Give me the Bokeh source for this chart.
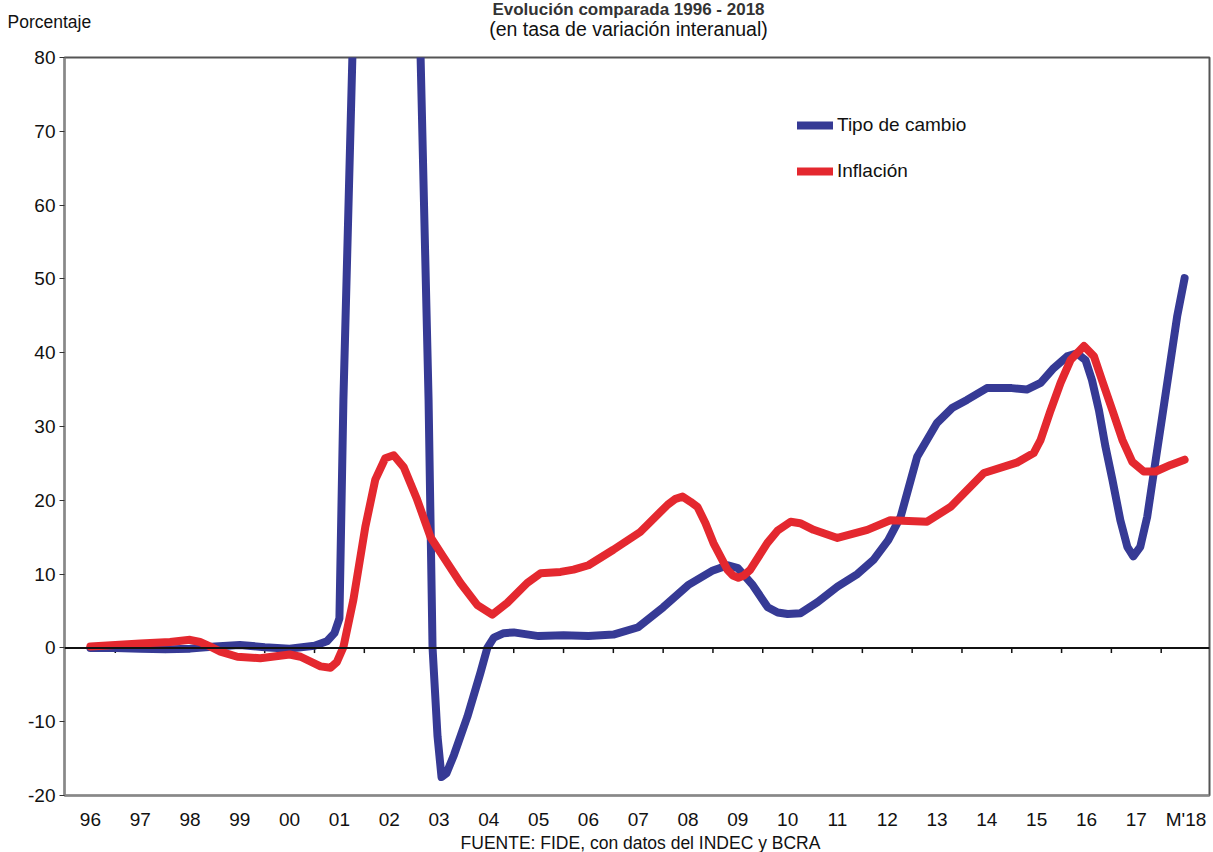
from bokeh.plotting import figure
from bokeh.models import Range1d, Span, Legend, LegendItem, FixedTicker
from bokeh.layouts import column
from bokeh.core.properties import value
from bokeh.embed import file_html
from bokeh.resources import INLINE

# Category labels (position index 0..22)
categorias = ["96", "97", "98", "99", "00", "01", "02", "03", "04", "05", "06",
              "07", "08", "09", "10", "11", "12", "13", "14", "15", "16", "17", "M'18"]

# Tipo de cambio (x = position in years from 1996, y = % interannual)
tipo_x = [0.0, 0.5, 1.0, 1.5, 2.0, 2.5, 3.0, 3.5, 4.0, 4.5, 4.75, 4.9, 5.0, 5.08, 5.26,
          5.5, 5.75, 6.0, 6.25, 6.5, 6.63, 6.79, 6.87, 6.97, 7.05, 7.15, 7.3, 7.57,
          7.83, 7.97, 8.1, 8.3, 8.5, 9.0, 9.5, 10.0, 10.5, 11.0, 11.5, 12.0, 12.5,
          12.8, 13.0, 13.3, 13.6, 13.8, 14.0, 14.26, 14.6, 15.0, 15.4, 15.72, 16.02, 16.27,
          16.6, 17.0, 17.3, 17.6, 18.0, 18.5, 18.8, 19.08, 19.34, 19.61, 19.81, 19.98,
          20.11, 20.25, 20.38, 20.52, 20.68, 20.82, 20.94, 21.08, 21.22, 21.35, 21.52,
          21.69, 21.82, 21.97]
tipo_y = [0.0, 0.0, -0.1, -0.2, -0.1, 0.2, 0.4, 0.1, -0.1, 0.3, 0.9, 2.0, 4.0, 33.6, 80.0,
          140.0, 200.0, 225.0, 200.0, 117.0, 80.0, 33.6, 0.0, -12.0, -17.5, -17.0, -14.5, -9.3,
          -3.4, 0.0, 1.4, 2.0, 2.1, 1.6, 1.7, 1.6, 1.8, 2.8, 5.5, 8.5, 10.5,
          11.2, 10.8, 8.5, 5.5, 4.8, 4.6, 4.7, 6.2, 8.3, 10.0, 11.9, 14.6, 17.8,
          25.9, 30.5, 32.5, 33.6, 35.2, 35.2, 35.0, 35.9, 37.9, 39.5, 39.9, 39.0,
          36.3, 32.2, 27.3, 22.8, 17.3, 13.7, 12.4, 13.7, 17.8, 23.7, 31.3,
          39.0, 44.9, 50.1]

# Inflación
infl_x = [0.0, 0.5, 1.0, 1.6, 2.0, 2.2, 2.4, 2.61, 2.95, 3.41, 4.0, 4.22, 4.62, 4.82, 4.95, 5.08,
          5.28, 5.52, 5.72, 5.92, 6.09, 6.29, 6.56, 6.83, 7.09, 7.43, 7.77, 8.07,
          8.37, 8.77, 9.04, 9.44, 9.7, 10.0, 10.5, 11.04, 11.59, 11.75, 11.89, 12.05, 12.19,
          12.35, 12.51, 12.79, 12.9, 13.01, 13.12, 13.25, 13.59, 13.8, 14.06, 14.25, 14.52,
          15.0, 15.6, 16.06, 16.8, 17.27, 17.94, 18.6, 18.94, 19.08, 19.28, 19.48, 19.68,
          19.95, 20.15, 20.31, 20.52, 20.72, 20.92, 21.15, 21.39, 21.69, 21.97]
infl_y = [0.2, 0.4, 0.6, 0.8, 1.1, 0.8, 0.2, -0.5, -1.2, -1.4, -0.9, -1.2, -2.5, -2.7, -1.9, 0.1,
          6.5, 16.4, 22.8, 25.7, 26.1, 24.5, 20.1, 15.0, 12.3, 8.8, 5.8, 4.5,
          6.1, 8.8, 10.1, 10.3, 10.6, 11.2, 13.3, 15.7, 19.4, 20.2, 20.5, 19.8, 19.1,
          16.9, 14.2, 10.6, 9.8, 9.5, 9.8, 10.6, 14.2, 15.9, 17.1, 16.9, 16.0,
          14.9, 16.0, 17.3, 17.1, 19.1, 23.7, 25.1, 26.4, 28.2, 32.2, 35.9, 39.0,
          40.9, 39.5, 36.3, 32.2, 28.2, 25.2, 23.9, 23.9, 24.8, 25.5]

series_names = ["Tipo de cambio", "Inflación"]
y_ticks = [-20, -10, 0, 10, 20, 30, 40, 50, 60, 70, 80]

titulo = "Evolución comparada 1996 - 2018"
subtitulo = "(en tasa de variación interanual)"
fuente = "FUENTE: FIDE, con datos del INDEC y BCRA"
eje_y = "Porcentaje"

FONT = "Liberation Sans"
BLUE = "#363A95"
RED = "#E4282F"
TXT = "#111111"

W = 1213
HEAD_H = 45
FOOT_H = 20
MAIN_H = 852 - HEAD_H - FOOT_H


def no_align(fig):
    try:
        fig.frame_align = False
    except Exception:
        pass


# ---------- header (title, subtitle, y-axis unit) ----------
head = figure(width=W, height=HEAD_H, output_backend="svg", toolbar_location=None,
              x_range=Range1d(0, W), y_range=Range1d(HEAD_H, 0),
              min_border=0, x_axis_type=None, y_axis_type=None)
no_align(head)
head.outline_line_color = None
head.xgrid.visible = False
head.ygrid.visible = False
head.text(x=[628], y=[9], text=[titulo], text_align="center", text_baseline="middle",
          text_font=value(FONT), text_font_size="17px", text_font_style="bold", text_color="#333333")
head.text(x=[628], y=[28], text=[subtitulo], text_align="center", text_baseline="middle",
          text_font=value(FONT), text_font_size="19.5px", text_color=TXT)
head.text(x=[7], y=[21], text=[eje_y], text_align="left", text_baseline="middle",
          text_font=value(FONT), text_font_size="17.5px", text_color=TXT)

# ---------- main chart ----------
p = figure(width=W, height=MAIN_H, output_backend="svg", toolbar_location=None,
           x_range=Range1d(-0.52, 22.47), y_range=Range1d(-20, 80),
           min_border_left=64, min_border_right=4, min_border_top=12, min_border_bottom=37)
no_align(p)
p.background_fill_color = "white"
p.border_fill_color = "white"
p.outline_line_color = "#555555"
p.outline_line_width = 2
p.xgrid.visible = False
p.ygrid.visible = False

p.xaxis.ticker = FixedTicker(ticks=list(range(len(categorias))))
p.xaxis.major_label_overrides = {i: c for i, c in enumerate(categorias)}
p.xaxis.major_tick_line_color = None
p.xaxis.minor_tick_line_color = None
p.xaxis.axis_line_color = "#888888"
p.xaxis.axis_line_width = 2
p.xaxis.major_label_standoff = 7
p.xaxis.major_label_text_font = FONT
p.xaxis.major_label_text_font_size = "19px"
p.xaxis.major_label_text_color = TXT

p.yaxis.ticker = FixedTicker(ticks=y_ticks)
p.yaxis.major_label_overrides = {t: str(t) for t in y_ticks}
p.yaxis.minor_tick_line_color = None
p.yaxis.major_tick_in = 0
p.yaxis.major_tick_out = 5
p.yaxis.major_tick_line_color = "#333333"
p.yaxis.major_tick_line_width = 1
p.yaxis.axis_line_color = "#888888"
p.yaxis.axis_line_width = 2
p.yaxis.major_label_standoff = 4
p.yaxis.major_label_text_font = FONT
p.yaxis.major_label_text_font_size = "19px"
p.yaxis.major_label_text_color = TXT

# zero line with small category-boundary ticks
p.add_layout(Span(location=0, dimension="width", line_color="#111111", line_width=2))
bx = [i + 0.5 for i in range(len(categorias) - 1)]
p.segment(x0=bx, y0=[0] * len(bx), x1=bx, y1=[-0.7] * len(bx), line_color="#111111", line_width=1.5)

r1 = p.line(tipo_x, tipo_y, line_color=BLUE, line_width=8, line_cap="round", line_join="round")
r2 = p.line(infl_x, infl_y, line_color=RED, line_width=8, line_cap="round", line_join="round")

legend = Legend(items=[LegendItem(label=series_names[0], renderers=[r1]),
                       LegendItem(label=series_names[1], renderers=[r2])],
                location=(733, 613), orientation="vertical")
legend.glyph_width = 36
legend.glyph_height = 20
legend.label_height = 20
legend.spacing = 24
legend.padding = 0
legend.margin = 0
legend.label_standoff = 4
legend.border_line_color = None
legend.background_fill_alpha = 0
legend.label_text_font = FONT
legend.label_text_font_size = "19px"
legend.label_text_color = TXT
p.add_layout(legend, "center")

# ---------- footer (source) ----------
foot = figure(width=W, height=FOOT_H, output_backend="svg", toolbar_location=None,
              x_range=Range1d(0, W), y_range=Range1d(FOOT_H, 0),
              min_border=0, x_axis_type=None, y_axis_type=None)
no_align(foot)
foot.outline_line_color = None
foot.xgrid.visible = False
foot.ygrid.visible = False
foot.text(x=[640], y=[10], text=[fuente], text_align="center", text_baseline="middle",
          text_font=value(FONT), text_font_size="17.5px", text_color=TXT)

layout = column(head, p, foot, spacing=0)
open("out.html", "w").write(file_html(layout, INLINE))
